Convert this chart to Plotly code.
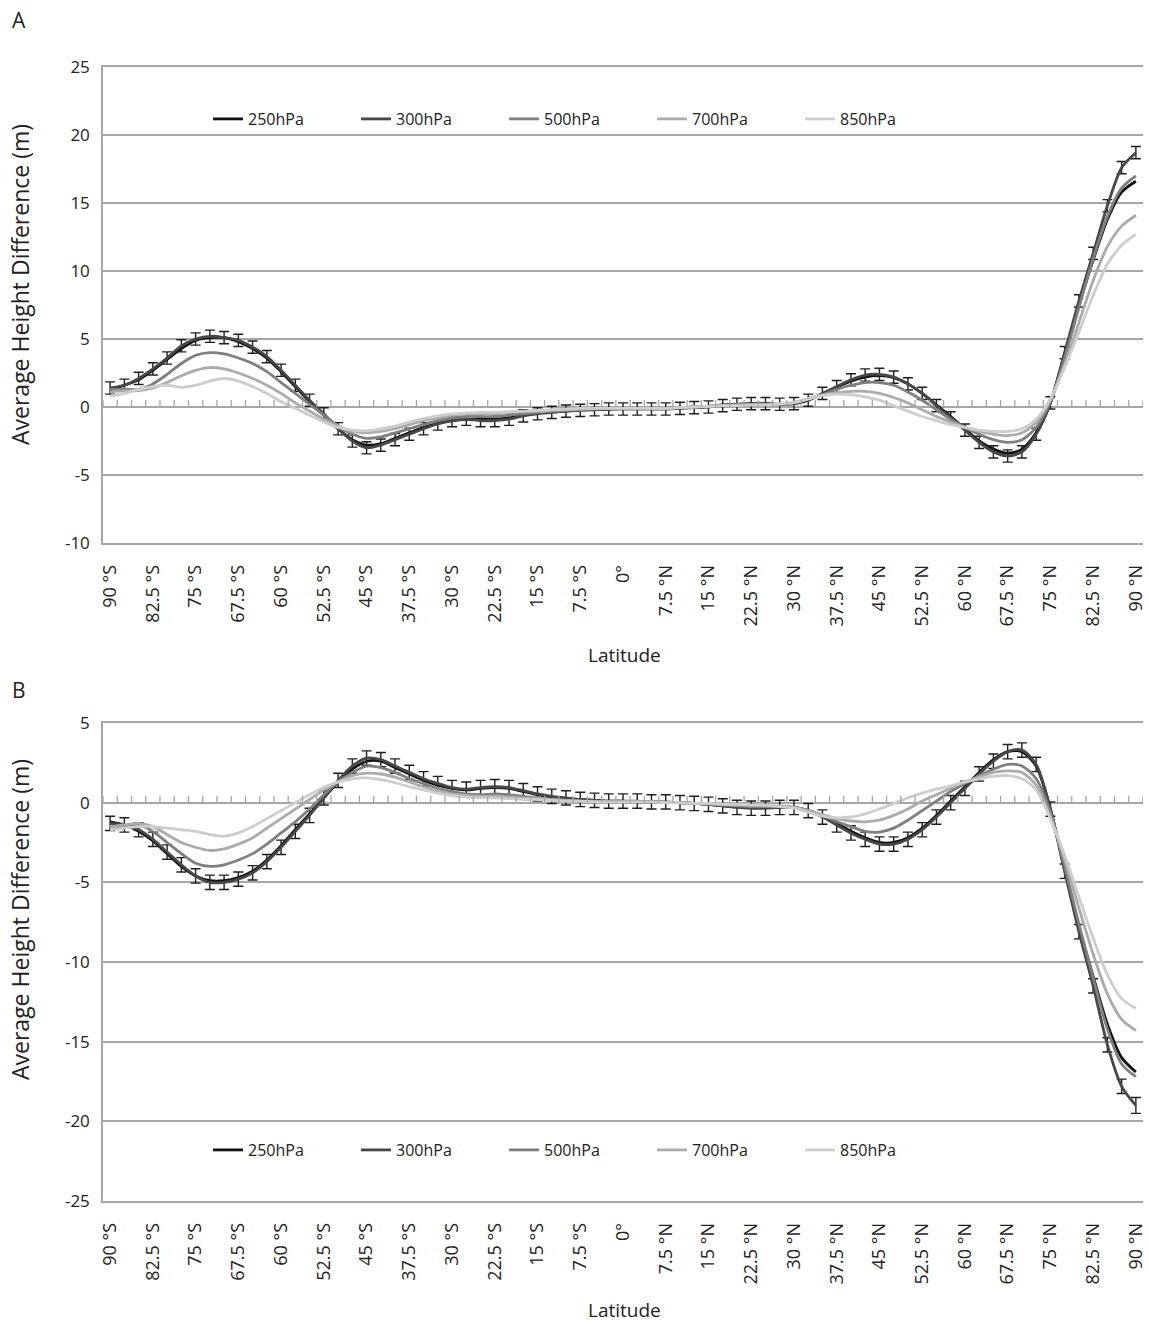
import plotly.graph_objects as go

# Latitude categories, 90°S .. 90°N every 2.5°
latitudes = [-90 + 2.5 * k for k in range(73)]
tick_index = list(range(0, 73, 3))
tick_labels = ["90 °S", "82.5 °S", "75 °S", "67.5 °S", "60 °S", "52.5 °S", "45 °S",
               "37.5 °S", "30 °S", "22.5 °S", "15 °S", "7.5 °S", "0°", "7.5 °N",
               "15 °N", "22.5 °N", "30 °N", "37.5 °N", "45 °N", "52.5 °N", "60 °N",
               "67.5 °N", "75 °N", "82.5 °N", "90 °N"]
a_yticks = [-10, -5, 0, 5, 10, 15, 20, 25]
a_yticktext = ["-10", "-5", "0", "5", "10", "15", "20", "25"]
b_yticks = [-25, -20, -15, -10, -5, 0, 5]
b_yticktext = ["-25", "-20", "-15", "-10", "-5", "0", "5"]

levels = ["250hPa", "300hPa", "500hPa", "700hPa", "850hPa"]

# ---- Panel A: average height difference (m) ----
a_250 = [1.3, 1.6, 2.0, 2.7, 3.5, 4.3, 4.9, 5.1, 5.1, 4.8, 4.3, 3.6, 2.6, 1.5, 0.4, -0.6,
         -1.6, -2.4, -2.8, -2.7, -2.3, -1.9, -1.5, -1.2, -1.0, -0.9, -0.9, -0.9, -0.8, -0.6,
         -0.45, -0.35, -0.3, -0.2, -0.2, -0.15, -0.1, -0.1, -0.1, -0.1, -0.05, 0.0, 0.05,
         0.15, 0.2, 0.25, 0.25, 0.2, 0.25, 0.5, 0.95, 1.45, 1.9, 2.2, 2.3, 2.15, 1.7, 1.0,
         0.15, -0.7, -1.6, -2.5, -3.1, -3.4, -3.1, -1.9, 0.3, 3.9, 7.5, 10.8, 13.8, 15.8, 16.6]
a_300 = [1.4, 1.6, 2.1, 2.8, 3.6, 4.5, 5.0, 5.2, 5.1, 4.9, 4.4, 3.7, 2.7, 1.6, 0.5, -0.5,
         -1.6, -2.5, -3.0, -2.8, -2.4, -2.0, -1.6, -1.25, -1.0, -0.9, -1.0, -1.0, -0.9, -0.65,
         -0.5, -0.4, -0.3, -0.25, -0.2, -0.15, -0.15, -0.15, -0.15, -0.15, -0.1, -0.05, 0.0,
         0.1, 0.2, 0.25, 0.25, 0.2, 0.25, 0.5, 1.0, 1.5, 2.0, 2.35, 2.4, 2.2, 1.7, 1.0,
         0.1, -0.8, -1.7, -2.6, -3.3, -3.6, -3.3, -2.0, 0.3, 4.0, 7.8, 11.3, 14.8, 17.6, 18.7]
a_500 = [1.3, 1.3, 1.3, 1.7, 2.4, 3.2, 3.8, 4.0, 3.9, 3.6, 3.2, 2.6, 1.8, 1.0, 0.2, -0.6,
         -1.4, -2.0, -2.3, -2.2, -1.9, -1.6, -1.3, -1.0, -0.8, -0.7, -0.7, -0.7, -0.6, -0.5,
         -0.4, -0.3, -0.25, -0.2, -0.15, -0.1, -0.1, -0.1, -0.1, -0.1, -0.05, 0.0, 0.05,
         0.1, 0.15, 0.2, 0.2, 0.2, 0.3, 0.6, 0.9, 1.3, 1.6, 1.8, 1.8, 1.6, 1.1, 0.5,
         -0.2, -0.9, -1.5, -2.0, -2.4, -2.6, -2.4, -1.5, 0.4, 3.6, 7.3, 10.9, 14.0, 16.1, 17.0]
a_700 = [1.1, 1.2, 1.2, 1.4, 1.8, 2.3, 2.7, 2.9, 2.8, 2.5, 2.1, 1.6, 1.0, 0.3, -0.3, -0.9,
         -1.4, -1.8, -1.9, -1.8, -1.6, -1.3, -1.0, -0.8, -0.6, -0.5, -0.5, -0.5, -0.4, -0.35,
         -0.3, -0.25, -0.2, -0.15, -0.1, -0.1, -0.1, -0.1, -0.1, -0.1, -0.05, 0.0, 0.05,
         0.1, 0.15, 0.15, 0.15, 0.2, 0.3, 0.6, 0.85, 1.05, 1.15, 1.15, 1.0, 0.7, 0.3, -0.2,
         -0.7, -1.1, -1.5, -1.8, -2.0, -2.1, -1.9, -1.1, 0.5, 3.1, 6.2, 9.3, 11.8, 13.3, 14.1]
a_850 = [0.8, 1.0, 1.3, 1.5, 1.6, 1.45, 1.6, 1.9, 2.1, 1.9, 1.5, 1.0, 0.4, -0.1, -0.6, -1.1,
         -1.5, -1.7, -1.75, -1.6, -1.4, -1.1, -0.85, -0.65, -0.5, -0.45, -0.4, -0.4, -0.35,
         -0.3, -0.25, -0.2, -0.15, -0.1, -0.1, -0.1, -0.1, -0.1, -0.1, -0.1, -0.05, 0.0,
         0.05, 0.1, 0.1, 0.15, 0.15, 0.25, 0.35, 0.6, 0.85, 0.95, 0.9, 0.75, 0.5, 0.1, -0.3,
         -0.7, -1.0, -1.3, -1.5, -1.7, -1.8, -1.8, -1.6, -0.9, 0.6, 2.9, 5.5, 8.2, 10.5, 11.9, 12.7]
a_err = [0.45, 0.45, 0.45, 0.45, 0.45, 0.45, 0.45, 0.45, 0.45, 0.45, 0.45, 0.45, 0.45,
         0.45, 0.45, 0.45, 0.45, 0.45, 0.45, 0.45, 0.45, 0.45, 0.45, 0.45, 0.45, 0.45,
         0.45, 0.45, 0.45, 0.45, 0.45, 0.45, 0.45, 0.45, 0.45, 0.45, 0.45, 0.45, 0.45,
         0.45, 0.45, 0.45, 0.45, 0.45, 0.45, 0.45, 0.45, 0.45, 0.45, 0.45, 0.45, 0.45,
         0.45, 0.45, 0.45, 0.45, 0.45, 0.45, 0.45, 0.45, 0.45, 0.45, 0.45, 0.45, 0.45,
         0.45, 0.45, 0.45, 0.45, 0.45, 0.45, 0.45, 0.45]

# ---- Panel B: average height difference (m) ----
b_250 = [-1.2, -1.4, -1.8, -2.4, -3.2, -4.0, -4.6, -4.9, -4.9, -4.7, -4.3, -3.6, -2.7, -1.7,
         -0.7, 0.3, 1.3, 2.1, 2.6, 2.6, 2.2, 1.8, 1.4, 1.1, 0.9, 0.8, 0.9, 0.95, 0.9, 0.7,
         0.5, 0.35, 0.25, 0.2, 0.15, 0.1, 0.1, 0.05, 0.05, 0.0, 0.0, -0.05, -0.1, -0.2,
         -0.25, -0.3, -0.3, -0.3, -0.3, -0.5, -0.85, -1.3, -1.8, -2.2, -2.5, -2.5, -2.2,
         -1.6, -0.8, 0.1, 1.0, 1.9, 2.7, 3.2, 3.2, 2.3, -0.4, -4.2, -7.8, -10.9, -13.9, -16.0, -16.9]
b_300 = [-1.3, -1.4, -1.7, -2.3, -3.1, -3.9, -4.6, -5.0, -5.0, -4.8, -4.4, -3.7, -2.8, -1.8,
         -0.8, 0.3, 1.4, 2.3, 2.8, 2.7, 2.3, 1.9, 1.5, 1.2, 0.95, 0.85, 0.95, 1.0, 0.95, 0.75,
         0.55, 0.4, 0.3, 0.2, 0.15, 0.1, 0.1, 0.1, 0.05, 0.05, 0.0, -0.05, -0.1, -0.2, -0.3,
         -0.35, -0.35, -0.3, -0.3, -0.5, -0.9, -1.4, -1.9, -2.3, -2.6, -2.6, -2.3, -1.7,
         -0.9, 0.0, 0.9, 1.8, 2.6, 3.2, 3.3, 2.4, -0.4, -4.3, -8.1, -11.5, -15.2, -17.8, -19.0]
b_500 = [-1.5, -1.5, -1.4, -1.8, -2.5, -3.2, -3.8, -4.0, -3.9, -3.6, -3.2, -2.6, -1.9, -1.2,
         -0.4, 0.5, 1.3, 1.9, 2.3, 2.2, 1.9, 1.5, 1.2, 0.9, 0.7, 0.55, 0.5, 0.55, 0.5, 0.4,
         0.3, 0.2, 0.15, 0.1, 0.1, 0.05, 0.05, 0.05, 0.05, 0.0, 0.0, -0.05, -0.1, -0.15,
         -0.2, -0.25, -0.25, -0.25, -0.3, -0.5, -0.8, -1.2, -1.5, -1.8, -1.85, -1.6, -1.1,
         -0.5, 0.1, 0.7, 1.2, 1.7, 2.1, 2.4, 2.3, 1.5, -0.6, -4.0, -7.6, -11.0, -14.2, -16.4, -17.2]
b_700 = [-1.5, -1.4, -1.3, -1.5, -2.0, -2.5, -2.8, -3.0, -2.9, -2.6, -2.2, -1.6, -1.0, -0.4,
         0.2, 0.8, 1.3, 1.7, 1.85, 1.8, 1.6, 1.3, 1.0, 0.75, 0.55, 0.45, 0.4, 0.4, 0.35, 0.3,
         0.25, 0.2, 0.15, 0.1, 0.05, 0.05, 0.05, 0.05, 0.05, 0.0, 0.0, -0.05, -0.05, -0.1,
         -0.15, -0.15, -0.2, -0.2, -0.3, -0.5, -0.75, -1.0, -1.15, -1.2, -1.1, -0.8, -0.4,
         0.1, 0.5, 0.9, 1.3, 1.6, 1.9, 2.0, 1.9, 1.1, -0.9, -3.6, -6.6, -9.5, -12.0, -13.6, -14.3]
b_850 = [-1.7, -1.6, -1.5, -1.5, -1.6, -1.7, -1.8, -2.0, -2.1, -1.9, -1.5, -1.0, -0.5, 0.0,
         0.5, 0.95, 1.3, 1.5, 1.55, 1.45, 1.25, 1.0, 0.8, 0.6, 0.45, 0.35, 0.3, 0.3, 0.25,
         0.2, 0.2, 0.15, 0.1, 0.1, 0.05, 0.05, 0.05, 0.05, 0.05, 0.0, 0.0, -0.05, -0.05,
         -0.1, -0.1, -0.15, -0.15, -0.25, -0.35, -0.6, -0.85, -0.95, -0.9, -0.7, -0.4, -0.05,
         0.3, 0.6, 0.85, 1.05, 1.3, 1.5, 1.65, 1.7, 1.5, 0.8, -1.0, -3.3, -5.9, -8.5, -10.8, -12.3, -12.9]
b_err = [0.45, 0.45, 0.45, 0.45, 0.45, 0.45, 0.45, 0.45, 0.45, 0.45, 0.45, 0.45, 0.45,
         0.45, 0.45, 0.45, 0.45, 0.45, 0.45, 0.45, 0.45, 0.45, 0.45, 0.45, 0.45, 0.45,
         0.45, 0.45, 0.45, 0.45, 0.45, 0.45, 0.45, 0.45, 0.45, 0.45, 0.45, 0.45, 0.45,
         0.45, 0.45, 0.45, 0.45, 0.45, 0.45, 0.45, 0.45, 0.45, 0.45, 0.45, 0.45, 0.45,
         0.45, 0.45, 0.45, 0.45, 0.45, 0.45, 0.45, 0.45, 0.45, 0.45, 0.45, 0.45, 0.45,
         0.45, 0.45, 0.45, 0.45, 0.45, 0.45, 0.45, 0.5]

panel_a = [a_250, a_300, a_500, a_700, a_850]
panel_b = [b_250, b_300, b_500, b_700, b_850]

W, H = 1149, 1325
FONT = "Open Sans, DejaVu Sans, sans-serif"
LEGEND_FONT = "Liberation Sans Narrow, Open Sans, sans-serif"
GRID = "#a6a6a6"
TEXT = "#222222"
line_colors = ["#111111", "#474747", "#7f7f7f", "#ababab", "#cdcdcd"]


def px_x(p):
    return p / W


def px_y(p):
    return 1 - p / H


fig = go.Figure()
x_idx = list(range(len(latitudes)))

for panel, xa, ya, leg, err in [(panel_a, "x", "y", "legend", a_err),
                                (panel_b, "x2", "y2", "legend2", b_err)]:
    for name, values, color in zip(levels, panel, line_colors):
        trace = dict(
            x=x_idx, y=values, name=name, mode="lines",
            line=dict(color=color, width=2.8, shape="spline", smoothing=0.8),
            xaxis=xa, yaxis=ya, legend=leg, hoverinfo="skip",
        )
        if name == "300hPa":
            trace["error_y"] = dict(type="data", array=err, visible=True,
                                    color="#1e1e1e", thickness=1.4, width=5)
        fig.add_trace(go.Scatter(**trace))

# Category tick marks along the zero line
shapes = []
for xa, ya in [("x", "y"), ("x2", "y2")]:
    for k in range(len(latitudes) + 1):
        shapes.append(dict(type="line", xref=xa, yref=ya, x0=k - 0.5, x1=k - 0.5,
                           ysizemode="pixel", yanchor=0, y0=0, y1=7,
                           line=dict(color=GRID, width=1.3)))

# x axis line mirrored so the top and bottom gridlines of each panel are drawn
xaxis_common = dict(
    range=[-0.5, len(latitudes) - 0.5], tickmode="array", tickvals=tick_index,
    ticktext=tick_labels, tickangle=-90, showgrid=False, zeroline=False,
    showline=True, mirror=True, linecolor=GRID, linewidth=1.5,
    ticks="", ticklabelstandoff=13, automargin=False,
    tickfont=dict(family=FONT, size=18, color=TEXT),
)
yaxis_common = dict(
    showgrid=True, gridcolor=GRID, gridwidth=1.5, zeroline=True, zerolinecolor=GRID,
    zerolinewidth=1.5, showline=True, linecolor=GRID, linewidth=1.5, ticks="",
    tickmode="array", automargin=False,
    tickfont=dict(family=FONT, size=17, color=TEXT), ticklabelstandoff=8,
)

legend_common = dict(orientation="h", xanchor="left", yanchor="middle",
                     entrywidth=103, bgcolor="rgba(0,0,0,0)",
                     font=dict(family=LEGEND_FONT, size=16, color=TEXT))

fig.update_layout(
    width=W, height=H, margin=dict(l=0, r=0, t=0, b=0, pad=0, autoexpand=False),
    paper_bgcolor="white", plot_bgcolor="white", shapes=shapes,
    xaxis=dict(domain=[px_x(103), px_x(1143)], anchor="y", **xaxis_common),
    yaxis=dict(domain=[px_y(543), px_y(67)], anchor="x", range=[-10, 25],
               tickvals=a_yticks, ticktext=a_yticktext, **yaxis_common),
    xaxis2=dict(domain=[px_x(103), px_x(1143)], anchor="y2", **xaxis_common),
    yaxis2=dict(domain=[px_y(1201), px_y(723)], anchor="x2", range=[-25, 5],
                tickvals=b_yticks, ticktext=b_yticktext, **yaxis_common),
    legend=dict(x=px_x(208), y=px_y(119), **legend_common),
    legend2=dict(x=px_x(208), y=px_y(1150), **legend_common),
    showlegend=True,
)

annotations = [
    dict(text="A", x=px_x(10), y=px_y(20), xanchor="left", yanchor="middle", size=21),
    dict(text="B", x=px_x(10), y=px_y(690), xanchor="left", yanchor="middle", size=21),
    dict(text="Latitude", x=px_x(624), y=px_y(655), xanchor="center", yanchor="middle", size=19),
    dict(text="Latitude", x=px_x(624), y=px_y(1310), xanchor="center", yanchor="middle", size=19),
    dict(text="Average Height Difference (m)", x=px_x(20), y=px_y(285), textangle=-90,
         xanchor="center", yanchor="middle", size=23),
    dict(text="Average Height Difference (m)", x=px_x(20), y=px_y(920), textangle=-90,
         xanchor="center", yanchor="middle", size=23),
]
for ann in annotations:
    size = ann.pop("size")
    ann.update(xref="paper", yref="paper", showarrow=False,
               font=dict(family=FONT, size=size, color=TEXT))
fig.update_layout(annotations=annotations)

fig.write_html("out.html")
